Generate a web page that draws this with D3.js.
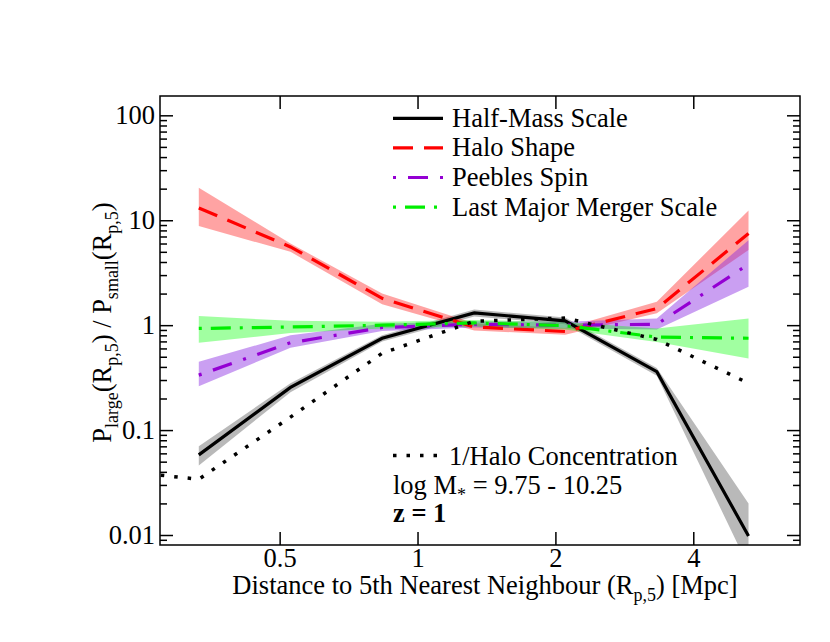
<!DOCTYPE html>
<html>
<head>
<meta charset="utf-8">
<script src="https://cdn.jsdelivr.net/npm/d3@7"></script>
<style>
body { margin: 0; background: #fff; }
svg, svg text { font-family: "Liberation Serif", Times, "Times New Roman", "DejaVu Serif", serif; }
</style>
</head>
<body>
<script>
/** data **/

// bin centres, Mpc
var distances = [0.333, 0.528, 0.837, 1.33, 2.10, 3.33, 5.28];
// the concentration curve has one extra bin on the left
var concDistances = [0.21, 0.333, 0.528, 0.837, 1.33, 2.10, 3.33, 5.28];

var halfMass     = [0.058, 0.255, 0.75, 1.31, 1.10, 0.36, 0.0098];
var halfMassLow  = [0.046, 0.230, 0.70, 1.21, 1.02, 0.33, 0.005];
var halfMassHigh = [0.070, 0.280, 0.80, 1.41, 1.18, 0.39, 0.020];

var haloShape     = [13.1, 5.57, 1.80, 0.96, 0.87, 1.44, 7.47];
var haloShapeLow  = [8.8, 5.0, 1.58, 0.89, 0.81, 1.30, 5.2];
var haloShapeHigh = [20.4, 6.0, 2.0, 1.04, 0.94, 1.67, 12.4];

var peeblesSpin     = [0.334, 0.68, 0.95, 1.02, 1.00, 1.02, 3.81];
var peeblesSpinLow  = [0.262, 0.61, 0.88, 0.95, 0.93, 0.91, 2.32];
var peeblesSpinHigh = [0.447, 0.80, 1.03, 1.09, 1.08, 1.16, 6.45];

var lastMerger     = [0.93, 0.96, 1.00, 1.05, 0.99, 0.77, 0.75];
var lastMergerLow  = [0.68, 0.84, 0.93, 0.97, 0.91, 0.69, 0.48];
var lastMergerHigh = [1.22, 1.10, 1.08, 1.12, 1.07, 0.93, 1.16];

var concentration = [0.042, 0.034, 0.133, 0.54, 1.09, 1.17, 0.73, 0.28];

var seriesNames = ["Half-Mass Scale", "Halo Shape", "Peebles Spin", "Last Major Merger Scale"];
var concName = "1/Halo Concentration";

// tick labels
var xTicks = [0.5, 1, 2, 4];
var xTickLabels = ["0.5", "1", "2", "4"];
var yTicks = [0.01, 0.1, 1, 10, 100];
var yTickLabels = ["0.01", "0.1", "1", "10", "100"];

/** set up **/
var width = 830, height = 642;
var border = { top: 96, bottom: 97, left: 160, right: 30 };
var fs = 26.5;
var serif = "'Liberation Serif', Times, 'Times New Roman', 'DejaVu Serif', serif";

var svg = d3.select("body").append("svg")
	.attr("width", width)
	.attr("height", height)
	.attr("font-family", serif);

var x = d3.scaleLog()
	.domain([0.274, 6.84])
	.range([border.left, width - border.right]);

var y = d3.scaleLog()
	.domain([0.00803, 152.8])
	.range([height - border.bottom, border.top]);

var x0 = x.range()[0], x1 = x.range()[1];
var y0 = y.range()[0], y1 = y.range()[1];

// minor ticks: 2..9 of every decade that falls inside the domain
var yMinor = [];
[0.001, 0.01, 0.1, 1, 10, 100].forEach(function (dec) {
	for (var k = 2; k < 10; k++) {
		var v = dec * k;
		if (v > y.domain()[0] && v < y.domain()[1]) yMinor.push(v);
	}
});

svg.append("clipPath").attr("id", "plotclip")
	.append("rect")
	.attr("x", x0).attr("y", y1)
	.attr("width", x1 - x0).attr("height", y0 - y1);

var plot = svg.append("g").attr("clip-path", "url(#plotclip)");

// table the drawing loop works from
var series = [
	{ name: seriesNames[0], mid: halfMass, lo: halfMassLow, hi: halfMassHigh,
	  color: "#000000", band: "#808080", bandOpacity: 0.55, dash: null },
	{ name: seriesNames[1], mid: haloShape, lo: haloShapeLow, hi: haloShapeHigh,
	  color: "#ff0000", band: "#ff0000", bandOpacity: 0.36, dash: "20,11" },
	{ name: seriesNames[2], mid: peeblesSpin, lo: peeblesSpinLow, hi: peeblesSpinHigh,
	  color: "#9400d3", band: "#8a2be2", bandOpacity: 0.45, dash: "3,12,20,12" },
	{ name: seriesNames[3], mid: lastMerger, lo: lastMergerLow, hi: lastMergerHigh,
	  color: "#00ee00", band: "#00ff00", bandOpacity: 0.37, dash: "3,9,20,9" }
];

var area = d3.area()
	.x(function (d) { return x(d.x); })
	.y0(function (d) { return y(d.lo); })
	.y1(function (d) { return y(d.hi); });

var line = d3.line()
	.x(function (d) { return x(d.x); })
	.y(function (d) { return y(d.v); });

// shaded bands first
series.forEach(function (s) {
	var pts = distances.map(function (d, i) { return { x: d, lo: s.lo[i], hi: s.hi[i] }; });
	plot.append("path")
		.attr("d", area(pts))
		.attr("fill", s.band)
		.attr("fill-opacity", s.bandOpacity)
		.attr("stroke", "none");
});

// then the median lines
series.forEach(function (s) {
	var pts = distances.map(function (d, i) { return { x: d, v: s.mid[i] }; });
	plot.append("path")
		.attr("d", line(pts))
		.attr("fill", "none")
		.attr("stroke", s.color)
		.attr("stroke-width", 3.2)
		.attr("stroke-dasharray", s.dash);
});

// dotted concentration line
plot.append("path")
	.attr("d", line(concDistances.map(function (d, i) { return { x: d, v: concentration[i] }; })))
	.attr("fill", "none")
	.attr("stroke", "#000")
	.attr("stroke-width", 3.5)
	.attr("stroke-dasharray", "3.5,10");

/** axes: ticks point inwards on all four sides **/
function styleAxis(g) {
	g.attr("font-family", serif).attr("font-size", fs);
	g.select(".domain").remove();
	g.selectAll(".tick line").attr("stroke", "#000").attr("stroke-width", 1.5);
	g.selectAll(".tick text").attr("fill", "#000");
}

svg.append("g")
	.attr("transform", "translate(" + x0 + ",0)")
	.call(d3.axisLeft(y).tickValues(yMinor).tickSize(-7).tickFormat(""))
	.call(styleAxis);
svg.append("g")
	.attr("transform", "translate(" + x0 + ",0)")
	.call(d3.axisLeft(y).tickValues(yTicks).tickSize(-13).tickPadding(5)
		.tickFormat(function (d, i) { return yTickLabels[i]; }))
	.call(styleAxis);

svg.append("g")
	.attr("transform", "translate(" + x1 + ",0)")
	.call(d3.axisRight(y).tickValues(yMinor).tickSize(-7).tickFormat(""))
	.call(styleAxis);
svg.append("g")
	.attr("transform", "translate(" + x1 + ",0)")
	.call(d3.axisRight(y).tickValues(yTicks).tickSize(-13).tickFormat(""))
	.call(styleAxis);

svg.append("g")
	.attr("transform", "translate(0," + y0 + ")")
	.call(d3.axisBottom(x).tickValues(xTicks).tickSize(-13).tickPadding(3)
		.tickFormat(function (d, i) { return xTickLabels[i]; }))
	.call(styleAxis);
svg.append("g")
	.attr("transform", "translate(0," + y1 + ")")
	.call(d3.axisTop(x).tickValues(xTicks).tickSize(-13).tickFormat(""))
	.call(styleAxis);

// frame
svg.append("rect")
	.attr("x", x0).attr("y", y1)
	.attr("width", x1 - x0).attr("height", y0 - y1)
	.attr("fill", "none")
	.attr("stroke", "#000")
	.attr("stroke-width", 1.5);

/** axis titles **/
var sub = 18, drop = 7;

var xl = svg.append("text")
	.attr("x", (x0 + x1) / 2 + 5)
	.attr("y", 594)
	.attr("text-anchor", "middle")
	.attr("font-size", fs);
xl.append("tspan").text("Distance to 5th Nearest Neighbour (R");
xl.append("tspan").attr("dy", drop).attr("font-size", sub).text("p,5");
xl.append("tspan").attr("dy", -drop).text(") [Mpc]");

var yl = svg.append("text")
	.attr("transform", "translate(111," + ((y0 + y1) / 2 + 2) + ") rotate(-90)")
	.attr("text-anchor", "middle")
	.attr("font-size", fs);
yl.append("tspan").text("P");
yl.append("tspan").attr("dy", drop).attr("font-size", sub).text("large");
yl.append("tspan").attr("dy", -drop).text("(R");
yl.append("tspan").attr("dy", drop).attr("font-size", sub).text("p,5");
yl.append("tspan").attr("dy", -drop).text(") / P");
yl.append("tspan").attr("dy", drop).attr("font-size", sub).text("small");
yl.append("tspan").attr("dy", -drop).text("(R");
yl.append("tspan").attr("dy", drop).attr("font-size", sub).text("p,5");
yl.append("tspan").attr("dy", -drop).text(")");

/** legend **/
var legX = 393, legLen = 50, legTextX = 452;
var legRowY = [118.3, 147.9, 177.5, 207.1];

series.forEach(function (s, i) {
	svg.append("line")
		.attr("x1", legX).attr("x2", legX + legLen)
		.attr("y1", legRowY[i]).attr("y2", legRowY[i])
		.attr("stroke", s.color)
		.attr("stroke-width", 3.2)
		.attr("stroke-dasharray", s.dash);
	svg.append("text")
		.attr("x", legTextX)
		.attr("y", legRowY[i] + 8.5)
		.attr("font-size", fs)
		.text(s.name);
});

svg.append("line")
	.attr("x1", legX).attr("x2", legX + legLen)
	.attr("y1", 455.5).attr("y2", 455.5)
	.attr("stroke", "#000")
	.attr("stroke-width", 3.5)
	.attr("stroke-dasharray", "3.5,10");
svg.append("text")
	.attr("x", legTextX - 3)
	.attr("y", 465)
	.attr("font-size", fs)
	.text(concName);

var mass = svg.append("text")
	.attr("x", legX)
	.attr("y", 494)
	.attr("font-size", fs);
mass.append("tspan").text("log M");
mass.append("tspan").attr("dy", drop).attr("font-size", sub).text("*");
mass.append("tspan").attr("dy", -drop).text(" = 9.75 - 10.25");

svg.append("text")
	.attr("x", legX)
	.attr("y", 522)
	.attr("font-size", fs)
	.attr("font-weight", "bold")
	.text("z = 1");
</script>
</body>
</html>
